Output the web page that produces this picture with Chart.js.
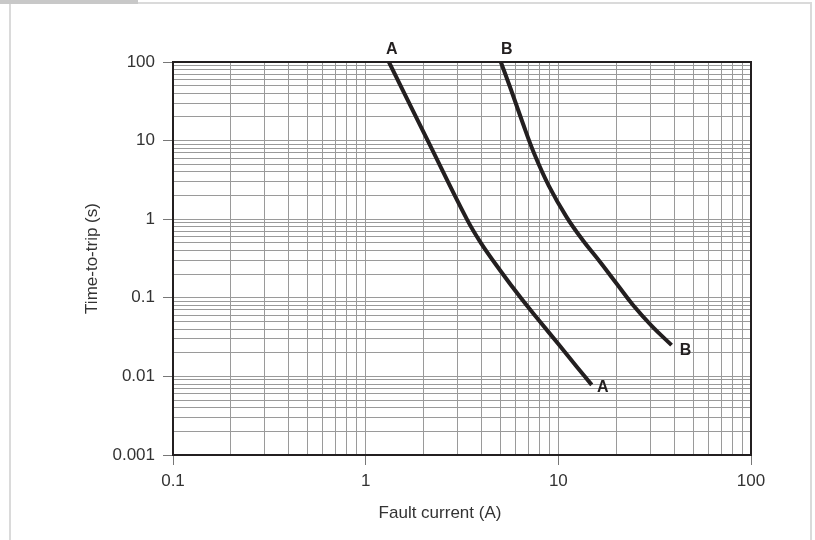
<!DOCTYPE html>
<html>
<head>
<meta charset="utf-8">
<script src="https://cdn.jsdelivr.net/npm/chart.js@4/dist/chart.umd.min.js"></script>
<style>
  body { margin: 0; background: #fff; }
  .wrap { position: relative; width: 815px; height: 540px; overflow: hidden; }
  .frame { position: absolute; left: 9px; top: 2px; width: 799px; height: 600px;
           border: 2px solid #dadada; border-bottom: none; }
  .tab { position: absolute; left: 0; top: 0; width: 138px; height: 4px; background: #c8c8c8; }
  canvas { position: absolute; left: 0; top: 0; }
</style>
</head>
<body>
<div class="wrap">
  <div class="frame"></div>
  <div class="tab"></div>
  <canvas id="trip" width="815" height="540"></canvas>
</div>
<script>
// curve A (fault current in A, time in s)
const currentA = [1.32, 2.1, 3.35, 3.96, 4.97, 6.38, 8.02, 9.98, 12.46, 14.9];
const timeA = [100, 10, 1.0, 0.5, 0.226, 0.1, 0.05, 0.026, 0.0133, 0.0078];

// curve B
const currentB = [5.03, 5.65, 6.5, 7.5, 8.9, 11.0, 13.4, 16.4, 20, 24.4, 30.5, 38.7];
const timeB = [100, 46, 17.4, 6.8, 2.7, 1.08, 0.54, 0.29, 0.153, 0.081, 0.044, 0.025];

// decade tick labels
const xTickLabels = ['0.1', '1', '10', '100'];
const yTickLabels = ['0.001', '0.01', '0.1', '1', '10', '100'];

const curveNames = ['A', 'B'];
const labelFont = "'Liberation Sans Narrow', 'Liberation Sans', Arial, sans-serif";
const ink = '#231f20';

// grid at 1..9 of every decade
const logTicks = (labels) => {
  const decades = labels.map(Number);
  let ticks = [];
  for (let i = 0; i < decades.length - 1; i++) {
    for (let m = 1; m < 10; m++) ticks.push({ value: m * decades[i] });
  }
  ticks.push({ value: decades[decades.length - 1] });
  return ticks;
};

const decadeLabel = (labels) => (value) => {
  let idx = labels.map(Number).indexOf(value);
  return idx >= 0 ? labels[idx] : '';
};

const isDecade = (labels, value) => labels.map(Number).indexOf(value) >= 0;

const toPoints = (xs, ys) => xs.map((x, i) => ({ x: x, y: ys[i] }));

// frame of plot, curve letters and x title
const extras = {
  id: 'extras',
  beforeDatasetsDraw(chart) {
    const { ctx, chartArea: a } = chart;
    ctx.save();
    ctx.strokeStyle = ink;
    ctx.lineWidth = 2;
    ctx.strokeRect(a.left, a.top, a.right - a.left, a.bottom - a.top);
    ctx.restore();
  },
  afterDatasetsDraw(chart) {
    const { ctx, chartArea: a, scales: { x, y } } = chart;
    ctx.save();
    ctx.fillStyle = ink;
    ctx.font = "bold 16px 'Liberation Sans', Arial, sans-serif";
    ctx.textAlign = 'center';
    ctx.textBaseline = 'middle';
    chart.data.datasets.forEach((ds, i) => {
      const first = ds.data[0];
      const last = ds.data[ds.data.length - 1];
      const top = [3, 6][i];
      const end = [[11, 3], [14, 5]][i];
      ctx.fillText(curveNames[i], x.getPixelForValue(first.x) + top, y.getPixelForValue(first.y) - 12);
      ctx.fillText(curveNames[i], x.getPixelForValue(last.x) + end[0], y.getPixelForValue(last.y) + end[1]);
    });
    // x axis title sits a little left of centre in the original
    ctx.fillStyle = '#333';
    ctx.font = '17px ' + labelFont;
    ctx.fillText('Fault current (A)', (a.left + a.right) / 2 - 22, 513);
    ctx.restore();
  },
};

const lineStyle = {
  borderColor: ink,
  borderWidth: 4,
  pointRadius: 0,
  fill: false,
  tension: 0.4,
};

new Chart(document.getElementById('trip'), {
  type: 'line',
  data: {
    datasets: [
      { label: 'A', data: toPoints(currentA, timeA), ...lineStyle },
      { label: 'B', data: toPoints(currentB, timeB), ...lineStyle },
    ],
  },
  options: {
    responsive: false,
    animation: false,
    layout: { padding: { top: 62, right: 64, left: 0, bottom: 0 } },
    plugins: {
      legend: { display: false },
      title: { display: false },
      tooltip: { enabled: false },
    },
    scales: {
      x: {
        type: 'logarithmic',
        min: 0.1,
        max: 100,
        afterFit: (scale) => { scale.height = 85; },
        afterBuildTicks: (scale) => { scale.ticks = logTicks(xTickLabels); },
        ticks: {
          autoSkip: false,
          maxRotation: 0,
          padding: 6,
          color: '#333',
          font: { family: labelFont, size: 17 },
          callback: decadeLabel(xTickLabels),
        },
        grid: {
          color: '#9a9a9a',
          lineWidth: 1,
          tickLength: 10,
          tickColor: (c) => (c.tick && isDecade(xTickLabels, c.tick.value)) ? '#777' : 'rgba(0,0,0,0)',
        },
        border: { display: false },
        title: { display: false },
      },
      y: {
        type: 'logarithmic',
        min: 0.001,
        max: 100,
        afterFit: (scale) => { scale.width = 173; },
        afterBuildTicks: (scale) => { scale.ticks = logTicks(yTickLabels); },
        ticks: {
          autoSkip: false,
          padding: 8,
          color: '#333',
          font: { family: labelFont, size: 17 },
          callback: decadeLabel(yTickLabels),
        },
        grid: {
          color: '#9a9a9a',
          lineWidth: 1,
          tickLength: 10,
          tickColor: (c) => (c.tick && isDecade(yTickLabels, c.tick.value)) ? '#777' : 'rgba(0,0,0,0)',
        },
        border: { display: false },
        title: {
          display: true,
          text: 'Time-to-trip (s)',
          color: '#333',
          font: { family: labelFont, size: 17 },
          padding: { top: 82, bottom: 0 },
        },
      },
    },
  },
  plugins: [extras],
});
</script>
</body>
</html>
